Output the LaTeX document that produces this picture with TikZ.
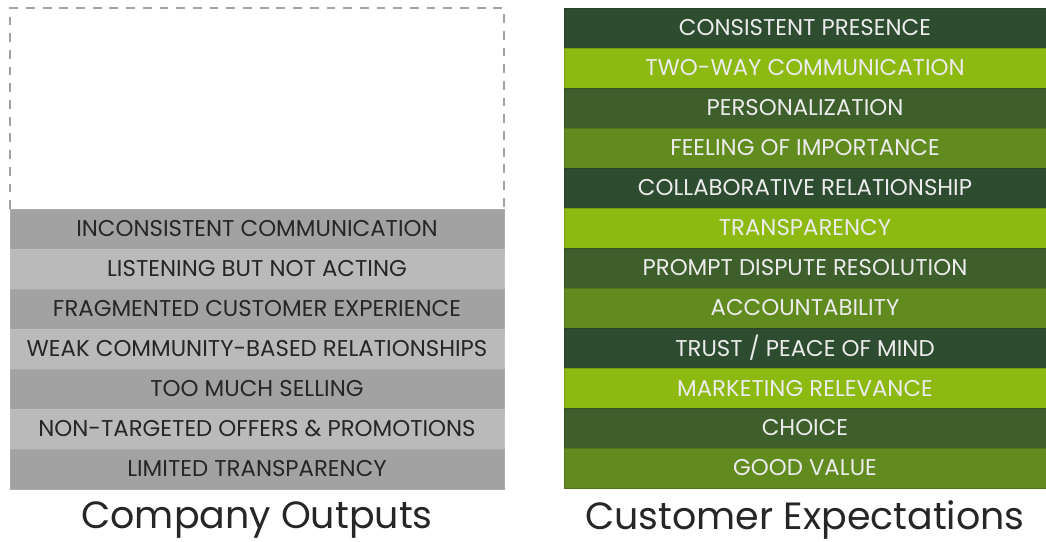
\documentclass[tikz,border=0pt]{standalone}
\usepackage{fontspec}
\setmainfont{Poppins}
\usetikzlibrary{positioning}

\definecolor{graydark}{HTML}{A2A2A2}
\definecolor{graylight}{HTML}{BABABA}
\definecolor{greendark}{HTML}{2E4C2F}
\definecolor{greenlime}{HTML}{8CBA10}
\definecolor{greenmid}{HTML}{3E5F2B}
\definecolor{greenolive}{HTML}{628B1F}

\begin{document}
\begin{tikzpicture}

\tikzset{outrow/.style={fill=#1,draw=#1!92!white,line width=0.4pt,minimum width=9.88cm,minimum height=0.8cm,inner sep=0pt,text=black!85,font=\fontsize{13}{15}\selectfont}}
\tikzset{exprow/.style={fill=#1,draw=#1!85!black,line width=0.4pt,minimum width=9.64cm,minimum height=0.8cm,inner sep=0pt,text=white!92!black,font=\fontsize{13}{15}\selectfont}}
\tikzset{caption/.style={font=\fontsize{21.6}{26}\selectfont,text=black!85}}

\useasboundingbox (0,0) rectangle (20.92,-10.82);

%empty space of company outputs
\draw[graydark,line width=1.4pt,dash pattern=on 5pt off 4.5pt] (0.2,-4.18)--(0.2,-0.16)--(10.08,-0.16)--(10.08,-4.18);

%company outputs
\node[outrow=graydark] (out1) at (5.14,-4.58) {INCONSISTENT COMMUNICATION};
\node[outrow=graylight] (out2) at (5.14,-5.38) {LISTENING BUT NOT ACTING};
\node[outrow=graydark] (out3) at (5.14,-6.18) {FRAGMENTED CUSTOMER EXPERIENCE};
\node[outrow=graylight] (out4) at (5.14,-6.98) {WEAK COMMUNITY-BASED RELATIONSHIPS};
\node[outrow=graydark] (out5) at (5.14,-7.78) {TOO MUCH SELLING};
\node[outrow=graylight] (out6) at (5.14,-8.58) {NON-TARGETED OFFERS \& PROMOTIONS};
\node[outrow=graydark] (out7) at (5.14,-9.38) {LIMITED TRANSPARENCY};

%customer expectations
\node[exprow=greendark] (exp1) at (16.1,-0.56) {CONSISTENT PRESENCE};
\node[exprow=greenlime] (exp2) at (16.1,-1.36) {TWO-WAY COMMUNICATION};
\node[exprow=greenmid] (exp3) at (16.1,-2.16) {PERSONALIZATION};
\node[exprow=greenolive] (exp4) at (16.1,-2.96) {FEELING OF IMPORTANCE};
\node[exprow=greendark] (exp5) at (16.1,-3.76) {COLLABORATIVE RELATIONSHIP};
\node[exprow=greenlime] (exp6) at (16.1,-4.56) {TRANSPARENCY};
\node[exprow=greenmid] (exp7) at (16.1,-5.36) {PROMPT DISPUTE RESOLUTION};
\node[exprow=greenolive] (exp8) at (16.1,-6.16) {ACCOUNTABILITY};
\node[exprow=greendark] (exp9) at (16.1,-6.96) {TRUST / PEACE OF MIND};
\node[exprow=greenlime] (exp10) at (16.1,-7.76) {MARKETING RELEVANCE};
\node[exprow=greenmid] (exp11) at (16.1,-8.56) {CHOICE};
\node[exprow=greenolive] (exp12) at (16.1,-9.36) {GOOD VALUE};

%captions
\node[caption] (outputs) at (5.14,-10.4) {Company Outputs};
\node[caption] (expectations) at (16.1,-10.4) {Customer Expectations};

\end{tikzpicture}
\end{document}
